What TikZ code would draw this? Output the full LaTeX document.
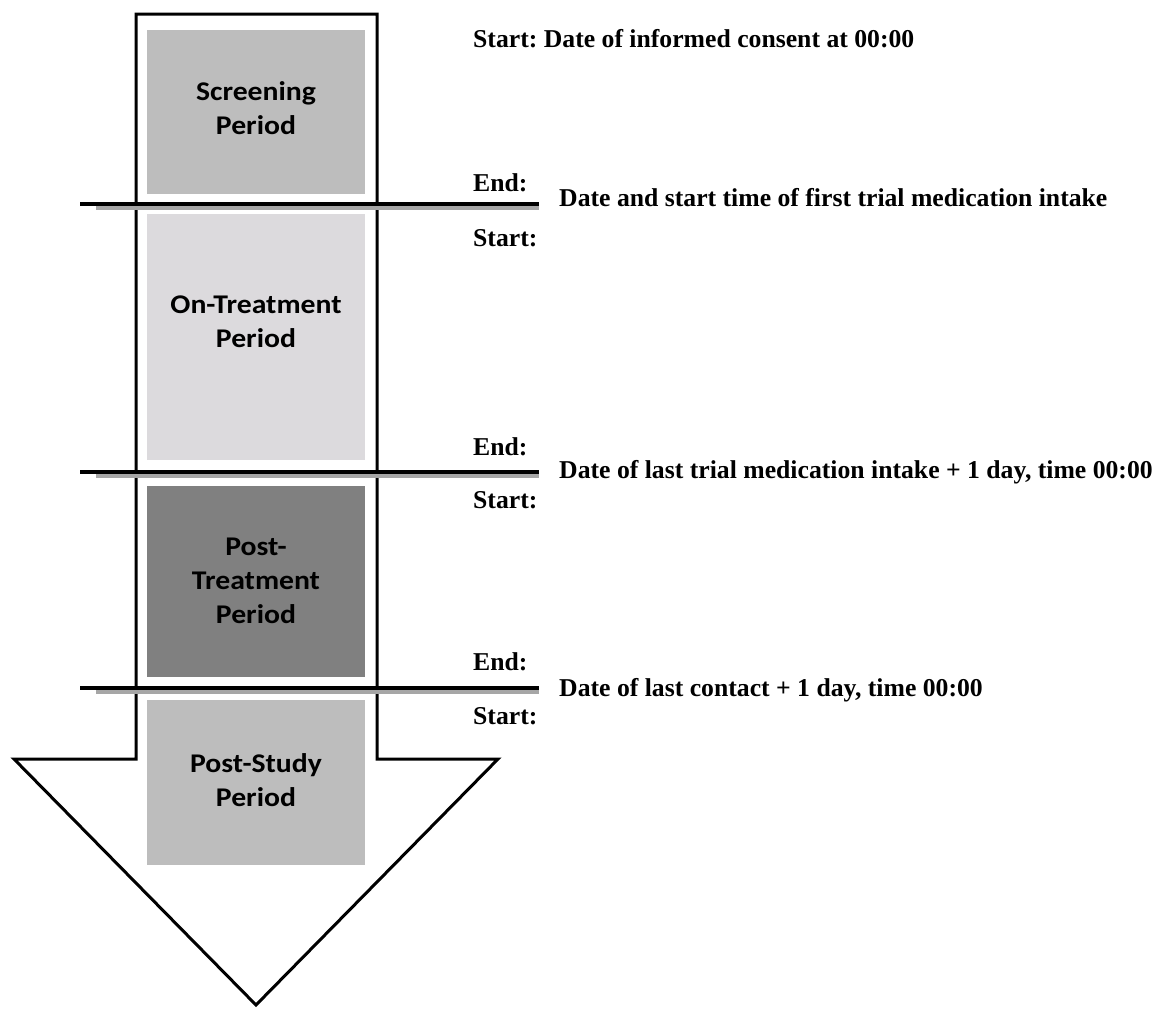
\documentclass[tikz,border=0pt]{standalone}
\usepackage{fontspec}
\setmainfont{Liberation Serif}
\newfontfamily\boxfont[FakeStretch=1.1]{Carlito}
\frenchspacing
\begin{document}
\begin{tikzpicture}[x=1pt,y=-1pt,
  periodbox/.style={draw=none,inner sep=0pt,minimum width=218pt},
  periodlabel/.style={font=\boxfont\bfseries\fontsize{27}{34}\selectfont,align=center,inner sep=0pt,text=black},
  sidetext/.style={font=\bfseries\fontsize{25.7}{30}\selectfont,anchor=base west,inner sep=0pt},
  divline/.style={line width=4pt},
  divshadow/.style={line width=3.5pt,draw=black!35}]
\useasboundingbox (0,0) rectangle (1161,1009);
% arrow outline
\draw[line width=3pt,line join=miter,fill=white] (136,14) -- (377,14) -- (377,759) -- (498,759) -- (256,1005) -- (14,759) -- (136,759) -- cycle;
% period boxes
\node[periodbox,fill=black!26,minimum height=164pt] (scr) at (256,112) {};
\node[periodbox,fill={rgb,255:red,220;green,218;blue,221},minimum height=246pt] (ont) at (256,337) {};
\node[periodbox,fill=black!50,minimum height=191pt] (post) at (256,581.5) {};
\node[periodbox,fill=black!26,minimum height=165pt] (pst) at (256,782.5) {};
% labels
\node[periodlabel] (scrl) at (256,108) {Screening\\Period};
\node[periodlabel] (ontl) at (256,322) {On-Treatment\\Period};
\node[periodlabel] (postl) at (256,581) {Post-\\Treatment\\Period};
\node[periodlabel] (pstl) at (256,780) {Post-Study\\Period};
% dividing lines
\coordinate (a1) at (80,204); \coordinate (b1) at (539,204);
\coordinate (a2) at (80,472); \coordinate (b2) at (539,472);
\coordinate (a3) at (80,688); \coordinate (b3) at (539,688);
\coordinate (s1) at (96,208); \coordinate (t1) at (539,208);
\coordinate (s2) at (96,476); \coordinate (t2) at (539,476);
\coordinate (s3) at (96,692); \coordinate (t3) at (539,692);
\draw[divshadow] (s1) -- (t1);
\draw[divshadow] (s2) -- (t2);
\draw[divshadow] (s3) -- (t3);
\draw[divline] (a1) -- (b1);
\draw[divline] (a2) -- (b2);
\draw[divline] (a3) -- (b3);
% side texts
\node[sidetext] (st0) at (473,47) {Start: Date of informed consent at 00:00};
\node[sidetext] (e1) at (473,191) {End:};
\node[sidetext] (d1) at (559,206) {Date and start time of first trial medication intake};
\node[sidetext] (st1) at (473,246) {Start:};
\node[sidetext] (e2) at (473,455) {End:};
\node[sidetext] (d2) at (559,478) {Date of last trial medication intake + 1 day, time 00:00};
\node[sidetext] (st2) at (473,508) {Start:};
\node[sidetext] (e3) at (473,670) {End:};
\node[sidetext] (d3) at (559,696) {Date of last contact + 1 day, time 00:00};
\node[sidetext] (st3) at (473,724) {Start:};
\end{tikzpicture}
\end{document}
